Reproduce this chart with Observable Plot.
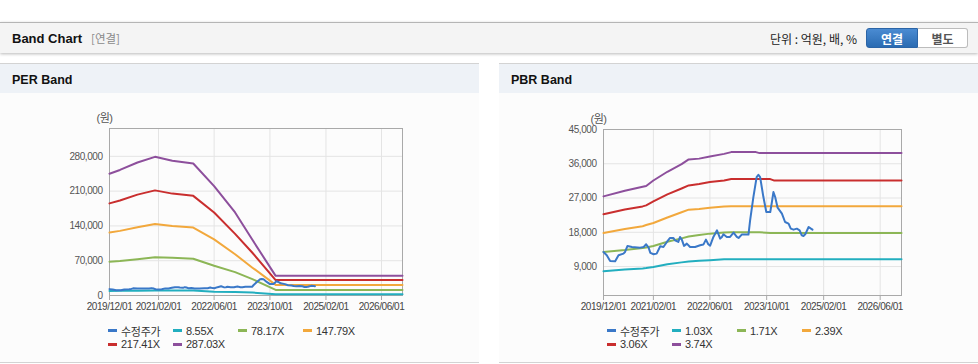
<!DOCTYPE html>
<html><head><meta charset="utf-8">
<script src="https://cdn.jsdelivr.net/npm/d3@7"></script>
<script src="https://cdn.jsdelivr.net/npm/@observablehq/plot@0.6"></script>
<style>
body{margin:0;width:978px;height:364px;position:relative;overflow:hidden;background:#fff;font-family:"Liberation Sans","Noto Sans CJK KR",sans-serif;}
.topbar{position:absolute;left:0;top:22px;width:978px;height:30px;background:#f4f4f4;border-top:1px solid #b5b5b5;box-shadow:0 1px 3px rgba(0,0,0,0.28);}
.title{position:absolute;left:12px;top:0;line-height:31px;font-weight:bold;font-size:13px;color:#111;}
.title span{color:#8a8a8a;font-weight:normal;margin-left:9px;font-family:"Noto Sans CJK KR";font-size:11.5px;}
.unit{position:absolute;left:770px;top:0;line-height:31px;font-size:12px;color:#222;font-family:"Noto Sans CJK KR";}
.btn{position:absolute;top:5px;width:52px;height:20px;line-height:19px;text-align:center;font-family:"Noto Sans CJK KR";font-weight:bold;font-size:12px;box-sizing:border-box;}
.b1{left:866px;background:linear-gradient(#4a8bd2,#2a6bb2);border:1px solid #2b64a6;color:#fff;border-radius:3px 0 0 3px;}
.b2{left:918px;width:50px;background:#fff;border:1px solid #bcbcbc;border-left:none;color:#555;border-radius:0 3px 3px 0;}
.panel{position:absolute;top:63px;width:479px;height:298px;background:#fcfcfc;border-top:1px solid #d3d3d3;border-bottom:1px solid #d3d3d3;}
.hd{height:29px;background:#eef2f7;font-weight:bold;font-size:12.5px;line-height:33px;padding-left:12px;color:#111;}
.chart{position:absolute;top:100px;}
.chart svg text{letter-spacing:-0.45px;}
.legend{position:absolute;top:324px;display:flex;flex-wrap:wrap;width:262px;font-size:11px;color:#333;letter-spacing:-0.3px;}
.item{width:65px;height:13.5px;display:flex;align-items:center;white-space:nowrap;}
.sw{width:9px;height:3px;margin-right:4px;flex:none;}
</style></head>
<body>
<div class="topbar">
  <div class="title">Band Chart<span>[연결]</span></div>
  <div class="unit">단위 : 억원, 배, %</div>
  <div class="btn b1">연결</div>
  <div class="btn b2">별도</div>
</div>
<div class="panel" style="left:0"><div class="hd">PER Band</div></div>
<div class="panel" style="left:499px"><div class="hd">PBR Band</div></div>
<div id="per" class="chart" style="left:0"></div>
<div id="pbr" class="chart" style="left:499px"></div>
<div id="perLegend" class="legend" style="left:108px"></div>
<div id="pbrLegend" class="legend" style="left:607px"></div>
<script>
// ---------- data ----------
const xTickDates = ["2019-12-01","2021-02-01","2022-06-01","2023-10-01","2025-02-01","2026-06-01"];
const xDomain = ["2019-12-01","2026-12-01"];

const priceName = "수정주가";
const priceDates = ["2019-12-01","2019-12-29","2020-01-27","2020-03-10","2020-04-08","2020-05-20","2020-06-03","2020-06-24","2020-08-01","2020-10-10","2020-11-10","2020-12-01","2020-12-22","2021-01-06","2021-02-03","2021-03-01","2021-04-01","2021-04-28","2021-05-28","2021-06-24","2021-07-22","2021-08-06","2021-09-03","2021-09-18","2021-10-03","2021-10-22","2021-11-15","2021-12-13","2022-01-25","2022-03-09","2022-04-06","2022-04-28","2022-05-18","2022-06-03","2022-07-01","2022-08-01","2022-08-28","2022-09-12","2022-09-25","2022-10-24","2022-11-21","2022-12-21","2023-01-18","2023-02-02","2023-03-01","2023-04-28","2023-05-12","2023-06-09","2023-07-07","2023-07-22","2023-08-06","2023-09-03","2023-09-28","2023-11-01","2023-11-15","2023-11-28","2023-12-13","2024-01-03","2024-02-09","2024-03-07","2024-04-06","2024-04-25","2024-05-19","2024-06-16","2024-07-10","2024-07-28","2024-08-12","2024-08-27","2024-09-25","2024-10-15","2024-10-28"];
const priceValues = [12840,11970,10480,10400,11970,12400,12840,14420,14150,13970,14150,14850,13970,12580,12230,12400,14330,14150,15460,16510,16510,15900,15460,16780,16080,14420,15030,14150,14150,14590,14770,16080,14850,14500,16780,18530,16340,16780,17470,16780,16780,17910,16780,16510,17390,17390,21150,27260,32500,33110,32500,27260,23330,23330,25950,28570,27260,24460,22890,20700,20270,18960,18700,18960,18530,17210,17040,17470,19400,18960,18700];

// PER band
const perNames = ["8.55X","78.17X","147.79X","217.41X","287.03X"];
const perDates = ["2019-12-01","2020-03-01","2020-08-01","2021-01-01","2021-06-01","2021-12-01","2022-06-01","2022-12-01","2023-05-01","2023-11-20","2026-12-01"];
const per855   = [9300,9500,9800,10200,10200,10000,7400,7000,6000,2700,2700];
const per7817  = [68000,69500,73000,77000,76000,74000,60000,47000,33000,11300,11300];
const per14779 = [126600,130000,137500,144000,140000,136600,113000,83000,56000,21300,21300];
const per21741 = [185300,191000,203000,211500,205000,200500,167000,124000,86000,31000,31000];
const per28703 = [245000,252600,267500,279000,271000,265500,220000,167000,112000,39500,39500];
const perYTicks = [0,70000,140000,210000,280000];
const perYDomain = [0,336000];

// PBR band
const pbrNames = ["1.03X","1.71X","2.39X","3.06X","3.74X"];
const pbrDates = ["2019-12-01","2020-06-01","2020-11-01","2020-12-01","2021-02-01","2021-06-01","2021-10-01","2021-12-01","2022-03-01","2022-06-01","2022-10-01","2022-12-01","2023-07-01","2023-08-01","2023-11-01","2023-12-01","2026-12-01"];
const pbr103 = [7775,8230,8520,8600,8910,9620,10100,10300,10500,10660,10900,10920,10920,10920,10920,10920,10920];
const pbr171 = [12840,13320,13900,14000,14420,15500,16400,16900,17300,17650,17950,18000,18000,18000,17820,17820,17820];
const pbr239 = [17820,18850,19600,19900,20450,21900,23250,23940,24150,24460,24750,24810,24810,24810,24810,24810,24810];
const pbr306 = [22720,24000,24800,25080,26100,27950,29500,30320,30700,31190,31600,31980,31980,31980,31980,31630,31630];
const pbr374 = [27440,28900,29950,30150,31600,33900,35900,37140,37350,37900,38600,39060,39060,38800,38800,38800,38800];
const pbrYTicks = [9000,18000,27000,36000,45000];
const pbrYDomain = [1400,45000];

const seriesColors = ["#3a78c8","#22aebf","#8cb656","#f2a83c","#c92e2e","#8d4f9c"];
const yUnit = "(원)";

// ---------- build ----------
function rows(name, dates, values){ return dates.map((d,i)=>({series:name, date:new Date(d), value:values[i]})); }

function makeChart(el, bandNames, bandDates, bandValues, yTicks, yDomain, ml, mt){
  const bands = bandNames.flatMap((n,i)=>rows(n, bandDates, bandValues[i]));
  const price = rows(priceName, priceDates, priceValues);
  const xt = xTickDates.map(d=>new Date(d));
  const chart = Plot.plot({
    width:479, height:220, marginLeft:ml, marginRight:77, marginTop:mt, marginBottom:25,
    style:{background:"transparent", fontFamily:"'Liberation Sans','Noto Sans CJK KR',sans-serif", fontSize:"10px", color:"#555", overflow:"visible"},
    x:{type:"utc", domain:xDomain.map(d=>new Date(d))},
    y:{domain:yDomain},
    color:{domain:[priceName, ...bandNames], range:seriesColors},
    marks:[
      Plot.gridY(yTicks, {stroke:"#e4e4e4", strokeOpacity:1}),
      Plot.gridX(xt, {stroke:"#e4e4e4", strokeOpacity:1}),
      Plot.frame({stroke:"#a9a9a9"}),
      Plot.axisY(yTicks, {tickSize:0, tickPadding:7, tickFormat:d3.format(","), label:null, fill:"#555", fontSize:10}),
      Plot.axisX(xt, {tickSize:5, tickPadding:2, tickFormat:d3.utcFormat("%Y/%m/%d"), label:null, fill:"#444", stroke:"#a9a9a9", fontSize:10}),
      Plot.line(bands, {x:"date", y:"value", z:"series", stroke:"series", strokeWidth:2}),
      Plot.line(price, {x:"date", y:"value", z:"series", stroke:"series", strokeWidth:2}),
      Plot.text([yUnit], {frameAnchor:"top-left", dx:-5, dy:-14, text:d=>d, fill:"#555", fontSize:11, textAnchor:"middle"})
    ]
  });
  document.getElementById(el).appendChild(chart);
}

function makeLegend(el, names){
  const box = document.getElementById(el);
  const all = [priceName, ...names];
  all.forEach((n,i)=>{
    const it = document.createElement("div"); it.className="item";
    const sw = document.createElement("span"); sw.className="sw"; sw.style.background = seriesColors[i];
    const t = document.createElement("span"); t.textContent = n;
    it.appendChild(sw); it.appendChild(t); box.appendChild(it);
  });
}

makeChart("per", perNames, perDates, [per855,per7817,per14779,per21741,per28703], perYTicks, perYDomain, 109, 28);
makeChart("pbr", pbrNames, pbrDates, [pbr103,pbr171,pbr239,pbr306,pbr374], pbrYTicks, pbrYDomain, 104, 29);
makeLegend("perLegend", perNames);
makeLegend("pbrLegend", pbrNames);
</script>
</body></html>
